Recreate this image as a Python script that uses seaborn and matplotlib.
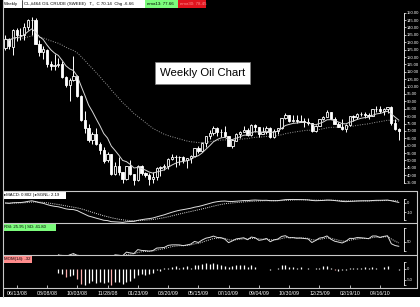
import numpy as np
import pandas as pd
import matplotlib
matplotlib.use("Agg")
import matplotlib.pyplot as plt
import seaborn as sns
from matplotlib.patches import Rectangle
from matplotlib.lines import Line2D

# ---------------- data (weekly crude oil, 05/23/08 .. 05/21/10) ----------------
opens = [126.3, 132.2, 127.0, 138.5, 135.0, 134.6, 140.5, 145.0, 145.0, 129.0,
         123.3, 125.0, 115.0, 113.7, 114.5, 115.5, 106.2, 101.2, 104.5, 106.9,
         93.9, 77.7, 71.8, 64.0, 67.8, 61.0, 57.0, 50.0, 54.4, 40.8,
         46.3, 42.4, 37.7, 46.3, 40.8, 36.5, 46.5, 41.7, 40.2, 37.5,
         38.9, 44.7, 45.5, 46.2, 51.0, 52.4, 52.5, 52.2, 50.3, 51.5,
         53.2, 58.6, 56.3, 61.7, 66.3, 68.4, 72.0, 69.5, 69.2, 66.7,
         59.9, 63.5, 68.0, 69.4, 70.9, 67.5, 73.9, 72.7, 68.0, 69.3,
         72.0, 66.0, 70.0, 71.8, 78.5, 80.5, 77.0, 77.4, 76.3, 76.7,
         76.0, 75.5, 69.9, 73.4, 78.0, 79.4, 82.7, 78.0, 74.5, 72.9,
         71.2, 74.1, 79.8, 79.7, 81.5, 81.2, 80.7, 80.0, 84.9, 84.9,
         83.2, 85.1, 86.1, 75.1, 71.6]
highs = [135.1, 133.0, 139.1, 139.9, 139.9, 143.0, 145.9, 147.3, 146.7, 131.6,
         127.8, 125.3, 117.2, 122.0, 119.5, 117.4, 107.3, 106.0, 120.9, 108.0,
         94.0, 83.7, 75.0, 69.0, 72.0, 62.6, 59.0, 55.9, 54.7, 49.0,
         52.1, 42.5, 46.5, 50.5, 41.1, 46.9, 47.2, 42.0, 41.5, 41.9,
         45.5, 46.0, 47.9, 52.0, 54.7, 53.7, 53.1, 53.1, 52.0, 53.8,
         58.6, 60.1, 62.3, 66.5, 70.3, 73.2, 72.6, 71.0, 73.4, 66.9,
         64.0, 68.5, 70.0, 73.5, 72.0, 74.7, 75.0, 73.0, 72.9, 73.2,
         72.4, 71.2, 72.0, 78.8, 82.0, 81.0, 81.0, 80.5, 80.5, 79.0,
         79.0, 75.6, 74.3, 78.2, 80.0, 84.0, 82.8, 79.6, 76.0, 77.8,
         75.0, 80.0, 80.5, 81.9, 82.5, 83.0, 82.0, 85.0, 87.0, 86.6,
         85.3, 86.3, 87.2, 78.0, 72.0]
lows = [124.6, 125.5, 121.6, 131.0, 131.3, 131.8, 138.5, 135.0, 128.6, 120.4,
        118.7, 113.4, 111.3, 111.4, 113.0, 105.5, 99.9, 90.5, 104.0, 93.0,
        77.0, 68.6, 62.7, 61.3, 60.6, 54.7, 48.3, 49.0, 40.5, 40.2,
        40.1, 35.1, 37.0, 40.5, 33.2, 36.1, 40.5, 38.7, 33.6, 34.5,
        36.6, 39.5, 43.3, 44.0, 50.6, 45.9, 47.0, 48.6, 45.2, 48.0,
        52.3, 55.2, 56.0, 59.2, 64.7, 67.3, 66.4, 66.2, 66.1, 59.7,
        58.3, 63.2, 64.9, 69.3, 66.5, 66.4, 69.5, 66.0, 67.8, 68.0,
        65.1, 65.5, 67.6, 71.5, 77.9, 76.0, 76.0, 75.5, 76.0, 72.4,
        74.0, 69.5, 69.5, 73.2, 77.5, 79.3, 77.9, 74.5, 72.4, 70.8,
        69.5, 73.4, 77.0, 78.0, 80.0, 79.0, 78.4, 79.9, 83.0, 82.3,
        80.5, 82.0, 74.2, 70.8, 64.2]
closes = [132.2, 127.4, 138.5, 134.9, 134.6, 140.2, 145.3, 145.1, 128.9, 123.3,
          125.1, 115.2, 113.8, 114.6, 115.5, 106.2, 101.2, 104.6, 106.9, 93.9,
          77.7, 71.9, 64.2, 67.8, 61.0, 57.0, 49.9, 54.4, 40.8, 46.3,
          42.4, 37.7, 46.3, 40.8, 36.5, 46.5, 41.7, 40.2, 37.5, 38.9,
          44.8, 45.5, 46.3, 51.1, 52.4, 52.5, 52.2, 50.3, 51.6, 53.2,
          58.6, 56.3, 61.7, 66.3, 68.4, 72.0, 69.6, 69.2, 66.7, 59.9,
          63.6, 68.1, 69.5, 70.9, 67.5, 73.9, 72.7, 68.0, 69.3, 72.0,
          66.0, 70.0, 71.8, 78.5, 80.5, 77.0, 77.4, 76.4, 76.7, 76.1,
          75.5, 69.9, 73.4, 78.1, 79.4, 82.8, 78.0, 74.5, 72.9, 71.2,
          74.1, 79.8, 79.7, 81.5, 81.2, 80.7, 80.0, 84.9, 84.9, 83.2,
          85.1, 86.2, 75.1, 71.6, 70.0]

date_tick_pos = [3, 11, 19, 27, 35, 43, 51, 59, 67, 75, 83, 91, 99]
date_tick_labels = ["06/13/08", "08/08/08", "10/03/08", "11/28/08", "01/23/09",
                    "03/20/09", "05/15/09", "07/10/09", "09/04/09", "10/30/09",
                    "12/25/09", "02/19/10", "04/16/10"]
price_ticks = list(range(35, 151, 5))

header_text = "CL,#464 OIL CRUDE (SWEEE)   T,,  C 70.14  Chg -6.66"
title_text = "Weekly Oil Chart"

# ---------------- derived indicators ----------------
df = pd.DataFrame({"o": opens, "h": highs, "l": lows, "c": closes})
df["i"] = np.arange(len(df))
c = df["c"]
df["ma_fast"] = c.ewm(span=8, adjust=False).mean()
df["ma_slow"] = c.ewm(span=36, adjust=False).mean()
df["macd"] = c.ewm(span=12, adjust=False).mean() - c.ewm(span=26, adjust=False).mean()
df["sgnl"] = df["macd"].ewm(span=9, adjust=False).mean()
d = c.diff()
gain = d.clip(lower=0).ewm(alpha=1/14, adjust=False, min_periods=14).mean()
loss = (-d.clip(upper=0)).ewm(alpha=1/14, adjust=False, min_periods=14).mean()
df["rsi"] = 100 - 100 / (1 + gain / loss)
df["rsi_sd"] = df["rsi"].ewm(span=5, adjust=False, min_periods=1).mean()
df["mom"] = c - c.shift(14)

# ---------------- style ----------------
sns.set_theme(style="dark", rc={"axes.facecolor": "black", "figure.facecolor": "black"})
plt.rcParams["font.family"] = ["Liberation Sans", "DejaVu Sans"]

W, H = 420, 307
fig = plt.figure(figsize=(W / 100, H / 100), dpi=100, facecolor="black")

def fx(x):
    return x / W

def fy(y):
    return 1 - y / H

X0, X1 = 3, 404
xlim = (-0.621, 105.35)

def make_ax(ytop, ybot):
    ax = fig.add_axes([fx(X0), fy(ybot), fx(X1) - fx(X0), (ybot - ytop) / H])
    ax.set_facecolor("black")
    ax.set_xlim(*xlim)
    ax.grid(False)
    for s in ["top", "left", "bottom"]:
        ax.spines[s].set_visible(False)
    ax.spines["right"].set_color("white")
    ax.spines["right"].set_linewidth(0.6)
    ax.yaxis.tick_right()
    ax.tick_params(axis="y", colors="white", labelsize=3.0, length=1.5, width=0.5, pad=0.6,
                   direction="out")
    ax.tick_params(axis="x", bottom=False, labelbottom=False)
    return ax

# main price panel
ax = make_ax(0, 191)
ax.set_ylim(29.36, 158.59)
x = df["i"].to_numpy()
o = df["o"].to_numpy(); cc = df["c"].to_numpy()
ax.vlines(x, df["l"], df["h"], color="white", lw=0.7, zorder=2)
up = cc >= o
ax.bar(x[up], (cc - o)[up], bottom=o[up], width=0.62, facecolor="black",
       edgecolor="white", lw=0.6, zorder=3)
ax.bar(x[~up], (o - cc)[~up], bottom=cc[~up], width=0.62, facecolor="white",
       edgecolor="white", lw=0.6, zorder=3)
sns.lineplot(data=df, x="i", y="ma_slow", ax=ax, color="#9a9a9a", lw=0.7,
             linestyle=(0, (1, 1.5)), zorder=1)
sns.lineplot(data=df, x="i", y="ma_fast", ax=ax, color="#d8d8d8", lw=0.7, zorder=4)
ax.set_yticks(price_ticks)
ax.set_yticklabels([f"{v:.2f}" for v in price_ticks])
ax.spines["right"].set_bounds(35, 150)
ax.set_xlabel(""); ax.set_ylabel("")

# MACD panel
ax2 = make_ax(191, 223)
ax2.set_ylim(-22.22, 13.33)
sns.lineplot(data=df, x="i", y="macd", ax=ax2, color="#e0e0e0", lw=0.7)
sns.lineplot(data=df, x="i", y="sgnl", ax=ax2, color="#e0e0e0", lw=0.7,
             linestyle=(0, (1, 1.2)))
ax2.set_yticks([4, 0, -10, -19])
ax2.set_yticklabels(["", "0", "-10", ""])
ax2.spines["right"].set_bounds(-19, 4)
ax2.set_xlabel(""); ax2.set_ylabel("")

# RSI panel
ax3 = make_ax(223, 255)
ax3.set_ylim(20.4, 91.6)
sns.lineplot(data=df, x="i", y="rsi", ax=ax3, color="#e0e0e0", lw=0.7)
sns.lineplot(data=df, x="i", y="rsi_sd", ax=ax3, color="#e0e0e0", lw=0.7,
             linestyle=(0, (1, 1.2)))
ax3.set_yticks([80, 50, 30])
ax3.set_yticklabels(["", "50", ""])
ax3.spines["right"].set_bounds(30, 80)
ax3.set_xlabel(""); ax3.set_ylabel("")

# Momentum panel
ax4 = make_ax(255, 288)
ax4.set_ylim(-86.4, 63.6)
mom = df["mom"].to_numpy()
mcol = []
for k in range(len(mom)):
    if k > 0 and not np.isnan(mom[k - 1]) and mom[k] < mom[k - 1] - 9:
        mcol.append("#ffb0b0")
    else:
        mcol.append("white")
ok = ~np.isnan(mom)
ax4.vlines(x[ok], 0, mom[ok], colors=np.array(mcol)[ok], lw=0.9)
ax4.set_yticks([30, 0, -50, -75])
ax4.set_yticklabels(["", "0", "-50", ""])
ax4.spines["right"].set_bounds(-75, 30)
ax4.set_xticks(date_tick_pos)
ax4.set_xticklabels(date_tick_labels)
ax4.tick_params(axis="x", bottom=True, labelbottom=True, colors="white", labelsize=3.8,
                length=2, width=0.5, direction="in", pad=2)
ax4.set_xlabel(""); ax4.set_ylabel("")

# ---------------- frame lines ----------------
def fline(x0, y0, x1, y1, color="#c8c8c8", lw=0.8):
    fig.add_artist(Line2D([fx(x0), fx(x1)], [fy(y0), fy(y1)], transform=fig.transFigure,
                          color=color, lw=lw))

for yy in [191, 223, 255, 288]:
    fline(3, yy, 417, yy)
fline(2.5, 0, 2.5, 297)
fline(417, 191, 417, 288)

def frect(x0, y0, x1, y1, color, ec="none"):
    fig.add_artist(Rectangle((fx(x0), fy(y1)), fx(x1) - fx(x0), (y1 - y0) / H,
                             transform=fig.transFigure, facecolor=color, edgecolor=ec,
                             lw=0.5))

# bottom white strip
frect(0, 297, 420, 307, "white")

# header
frect(3, 0, 145, 7.5, "white")
fig.text(fx(4), fy(4), "Weekly", fontsize=3.2, color="black", va="center", ha="left")
fline(22, 0, 22, 7.5, color="black", lw=0.5)
fig.text(fx(24), fy(4), header_text, fontsize=3.2, color="black", va="center", ha="left")
frect(145, 0, 178, 7.5, "#7CFC7C")
fig.text(fx(147), fy(4), "ema13: 77.66", fontsize=3.2, color="black", va="center", ha="left")
frect(178, 0, 206, 7.5, "#e0141e")
fig.text(fx(180), fy(4), "ema30: 78.45", fontsize=3.2, color="#ff9090", va="center", ha="left")

# title box
frect(155, 62, 250, 84, "white", ec="#808080")
fig.text(fx(202.5), fy(73.5), title_text, fontsize=8.2, color="black", va="center",
         ha="center")

# panel labels
frect(3, 192, 66, 198.5, "white")
fig.text(fx(4), fy(195.3), "\u25b8MACD: 0.802 | \u25b8SGNL: 2.19", fontsize=3.1,
         color="black", va="center", ha="left")
frect(3, 224, 56, 230.5, "#7CFC7C")
fig.text(fx(4), fy(227.3), "RSI: 25.95 | SD: 41.80", fontsize=3.1, color="black",
         va="center", ha="left")
frect(3, 256, 32, 262.5, "#ff8c8c")
fig.text(fx(4), fy(259.3), "MOM(14): -32", fontsize=3.1, color="black", va="center",
         ha="left")

fig.savefig("out.png", dpi=100, facecolor="black")
